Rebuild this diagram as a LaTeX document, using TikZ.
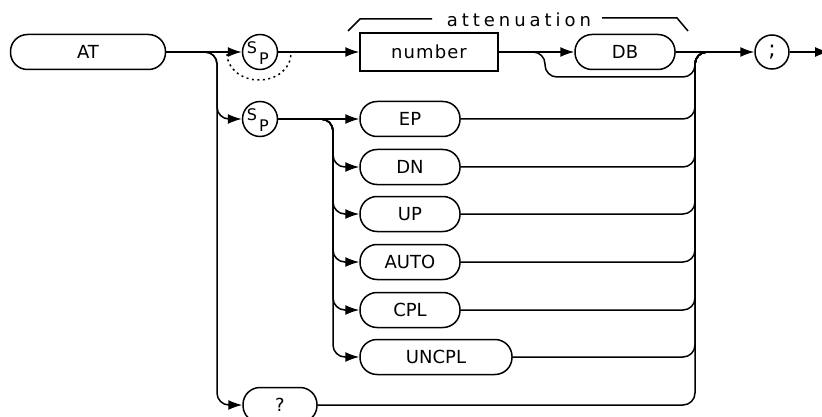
\documentclass[tikz,border=0pt]{standalone}
\usepackage{fontspec}
\setmainfont{DejaVu Sans}
\usetikzlibrary{arrows.meta}
\begin{document}
\begin{tikzpicture}[x=1pt,y=-1pt,
  line width=1.5pt,
  lab/.style={font=\fontsize{18}{20}\selectfont},
  pill/.style={draw,rounded corners=17pt,minimum height=35pt,inner sep=0pt,lab},
  numbox/.style={draw,minimum height=38pt,inner sep=0pt,lab},
  circ/.style={draw,circle,minimum size=35pt,inner sep=0pt},
  sub/.style={font=\fontsize{16}{18}\selectfont,inner sep=0pt},
  conn/.style={rounded corners=12pt},
  arr/.style={-{Latex[length=14pt,width=10pt]}},
  dots/.style={dash pattern=on 2pt off 3.5pt},
]
\useasboundingbox (0,0) rectangle (822,417);
% nodes
\node[pill,minimum width=155pt] (AT) at (88,52) {AT};
\node[circ] (S1) at (260,52) {};
\node[sub] (S1s) at ([shift={(-8,-4)}]S1.center) {S};
\node[sub] (S1p) at ([shift={(4,7)}]S1.center) {P};
\node[circ] (S2) at (260,119) {};
\node[sub] (S2s) at ([shift={(-8,-4)}]S2.center) {S};
\node[sub] (S2p) at ([shift={(4,7)}]S2.center) {P};
\node[numbox,minimum width=138pt] (num) at (429,52) {\addfontfeature{LetterSpace=6}number};
\node[pill,minimum width=100pt] (DB) at (625,52) {DB};
\node[circ,minimum size=34pt,font=\fontsize{22}{24}\selectfont] (SC) at (772,52) {;};
\node[pill,minimum width=100pt] (EP) at (410,119) {EP};
\node[pill,minimum width=100pt] (DN) at (410,167) {DN};
\node[pill,minimum width=100pt] (UP) at (410,214) {UP};
\node[pill,minimum width=100pt] (AUTO) at (410,262) {AUTO};
\node[pill,minimum width=100pt] (CPL) at (410,310) {CPL};
\node[pill,minimum width=152pt] (UNCPL) at (436,357) {UNCPL};
\node[pill,minimum width=74pt] (Q) at (280,405) {?};
\node[lab,anchor=base] (att) at (519,27) {\addfontfeature{LetterSpace=22}attenuation};
% helper coordinates
\coordinate (L) at (217,52);
\coordinate (B) at (333,119);
\coordinate (C) at (695,52);
\coordinate (J) at (718,52);
\coordinate (K) at (545,52);
\coordinate (K2) at (545,77);
\coordinate (E) at (829,52);
\coordinate (D1) at (227,54);
% bracket
\draw (348,31) -- (360,19) -- (432,19);
\draw (602,18) -- (677,18) -- (688,31);
% connectors
\draw[arr] (AT.east) -- (S1.west);
\draw[arr,conn] (AT.east) -- (L) -- (L |- S2.west) -- (S2.west);
\draw[arr,conn] (AT.east) -- (L) -- (L |- Q.west) -- (Q.west);
\draw[dots] (D1) arc[start angle=180,end angle=0,x radius=32,y radius=26];
\draw[arr] (S1.east) -- (num.west);
\draw[arr] (num.east) -- (DB.west);
\draw[conn] (num.east) -- (K) -- (K2) -- (C |- K2) -- (C) -- (J);
\draw[arr] (DB.east) -- (SC.west);
\draw[arr] (SC.east) -- (E);
\draw[arr] (S2.east) -- (EP.west);
\foreach \n in {DN,UP,AUTO,CPL,UNCPL}{
  \draw[arr,conn] (S2.east) -- (B) -- (B |- \n.west) -- (\n.west);
}
\foreach \n in {EP,DN,UP,AUTO,CPL,UNCPL,Q}{
  \draw[conn] (\n.east) -- (\n.east -| C) -- (C) -- (J);
}
\end{tikzpicture}
\end{document}
